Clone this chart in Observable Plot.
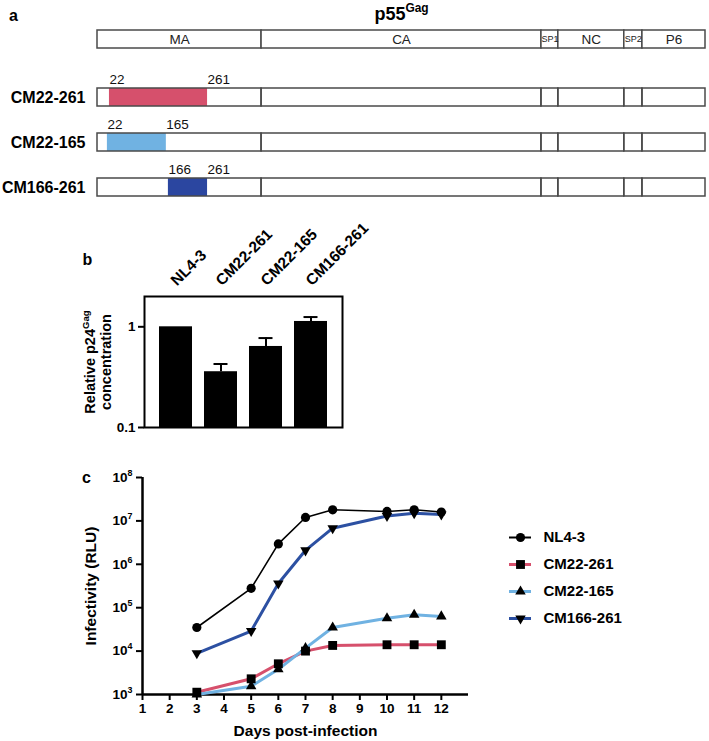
<!DOCTYPE html>
<html><head><meta charset="utf-8">
<script src="https://cdn.jsdelivr.net/npm/d3@7"></script>
<script src="https://cdn.jsdelivr.net/npm/@observablehq/plot@0.6"></script>
<style>
body{margin:0;background:#fff}
#fig{position:relative;width:709px;height:741px;background:#fff;overflow:hidden}
</style></head><body><div id="fig"></div>
<script>
// ---------- data ----------
// panel a: Gag domains (schematic positions)
const gagDomains = ["MA", "CA", "SP1", "NC", "SP2", "P6"];
const gagStart = [0, 398, 1077, 1118, 1278, 1322];
const gagEnd = [398, 1077, 1118, 1278, 1322, 1475];
const constructs = ["CM22-261", "CM22-165", "CM166-261"];
const mutStartLabel = [22, 22, 166];
const mutEndLabel = [261, 165, 261];
const mutFillStart = [29, 24, 172];
const mutFillEnd = [267, 167, 267];
const constructColors = ["#d6506c", "#70b2e2", "#2b46a0"];

// panel b: relative p24 concentration
const p24Names = ["NL4-3", "CM22-261", "CM22-165", "CM166-261"];
const p24Values = [1, 0.358, 0.638, 1.13];
const p24Upper = [null, 0.427, 0.773, 1.25];
const p24Ticks = [0.1, 1];
const p24TickLabels = ["0.1", "1"];

// panel c: infectivity
const days = [3, 5, 6, 7, 8, 10, 11, 12];
const seriesNames = ["NL4-3", "CM22-261", "CM22-165", "CM166-261"];
const rluNL43 = [3.5e4, 2.8e5, 2.95e6, 1.2e7, 1.8e7, 1.65e7, 1.8e7, 1.6e7];
const rluCM22_261 = [1.13e3, 2.3e3, 5.1e3, 1.0e4, 1.35e4, 1.4e4, 1.4e4, 1.4e4];
const rluCM22_165 = [1.0e3, 1.55e3, 3.8e3, 1.17e4, 3.5e4, 5.7e4, 6.9e4, 6.3e4];
const rluCM166_261 = [8.9e3, 2.9e4, 3.6e5, 2.1e6, 6.8e6, 1.3e7, 1.5e7, 1.4e7];
const dayTicks = [1, 2, 3, 4, 5, 6, 7, 8, 9, 10, 11, 12];
const rluTicks = [1e3, 1e4, 1e5, 1e6, 1e7, 1e8];
const seriesColors = ["#000000", "#d6506c", "#70b2e2", "#2c50a2"];

// ---------- helpers ----------
const FONT = "'Liberation Sans', Arial, Helvetica, sans-serif";
const fig = document.getElementById("fig");
function place(el, left, top) {
  el.style.position = "absolute";
  el.style.left = left + "px";
  el.style.top = top + "px";
  el.style.maxWidth = "none";
  fig.appendChild(el);
  return el;
}
function boldTicks(svg) {
  svg.querySelectorAll('g[aria-label$="tick label"]').forEach(g => g.setAttribute("font-weight", "bold"));
}
function supify(root) {
  const ns = "http://www.w3.org/2000/svg";
  root.querySelectorAll("text, tspan").forEach(el => {
    if (el.children.length) return;
    const t = el.textContent;
    const m = t.match(/^(.*)\^\{(.*?)\}(.*)$/);
    if (!m) return;
    const fs = parseFloat(getComputedStyle(el).fontSize) || 13;
    const sfs = Math.round(fs * 0.66 * 10) / 10;
    const shift = Math.round(fs * 0.42 * 10) / 10;
    el.textContent = "";
    const a = document.createElementNS(ns, "tspan"); a.textContent = m[1];
    const b = document.createElementNS(ns, "tspan"); b.textContent = m[2];
    b.setAttribute("font-size", sfs); b.setAttribute("baseline-shift", shift + "px");
    el.append(a, b);
    if (m[3]) { const c = document.createElementNS(ns, "tspan"); c.textContent = m[3]; el.append(c); }
  });
}
const triangleDown = {
  draw(ctx, size) {
    const s3 = Math.sqrt(3);
    const y = -Math.sqrt(size / (s3 * 3));
    ctx.moveTo(0, -2 * y);
    ctx.lineTo(-s3 * y, y);
    ctx.lineTo(s3 * y, y);
    ctx.closePath();
  }
};
const seriesSymbols = ["circle", "square", "triangle", triangleDown];
const seriesR = [4.6, 5, 3.9, 3.9];
const baseStyle = {fontFamily: FONT, color: "black", background: "transparent", overflow: "visible"};
const centered = {textAnchor: "middle", lineAnchor: "middle"};

// ---------- panel a ----------
const gagTable = gagDomains.map((name, i) => ({name, start: gagStart[i], end: gagEnd[i]}));
const xGag = {domain: [gagStart[0], gagEnd[gagEnd.length - 1]], range: [97, 705], axis: null};
const gagMid = (gagStart[0] + gagEnd[gagEnd.length - 1]) / 2;

const plotA1 = Plot.plot({
  width: 709, height: 60, margin: 0,
  style: baseStyle,
  x: xGag,
  y: {type: "band", domain: ["p55"], range: [30, 48], padding: 0, axis: null},
  marks: [
    Plot.barX(gagTable, {x1: "start", x2: "end", y: () => "p55", fill: "white", stroke: "#4a4a4a", strokeWidth: 1.5}),
    Plot.text(gagTable, {x: d => (d.start + d.end) / 2, y: () => "p55", text: "name",
      fontSize: d => d.name.startsWith("SP") ? 9 : 13.5, fill: "#222"}),
    Plot.text([gagMid], {x: d => d, text: () => "p55^{Gag}", frameAnchor: "top", dy: 14, ...centered,
      fontSize: 18, fontWeight: "bold"}),
    Plot.text(["a"], {frameAnchor: "top-left", dx: 13, dy: 15, ...centered, fontSize: 16, fontWeight: "bold"})
  ]
});
place(plotA1, 0, 0);

const rowsA = d3.cross(constructs, gagTable).map(([c, d]) => ({construct: c, ...d}));
const mutTable = constructs.map((c, i) => ({
  construct: c, fs: mutFillStart[i], fe: mutFillEnd[i],
  ls: mutStartLabel[i], le: mutEndLabel[i], color: constructColors[i]
}));
const plotA2 = Plot.plot({
  width: 709, height: 155, margin: 0,
  style: baseStyle,
  x: xGag,
  y: {type: "band", domain: constructs, range: [28, 136], paddingInner: 0.6, paddingOuter: 0, axis: null},
  marks: [
    Plot.barX(rowsA, {x1: "start", x2: "end", y: "construct", fill: "white"}),
    Plot.barX(mutTable, {x1: "fs", x2: "fe", y: "construct", fill: d => d.color}),
    Plot.barX(rowsA, {x1: "start", x2: "end", y: "construct", fill: "none", stroke: "#4a4a4a", strokeWidth: 1.5}),
    Plot.text(mutTable, {x: "fs", y: "construct", text: d => String(d.ls), textAnchor: "start", dy: -18, fontSize: 13.5, fill: "#111"}),
    Plot.text(mutTable, {x: "fe", y: "construct", text: d => String(d.le), textAnchor: "start", dy: -18, fontSize: 13.5, fill: "#111"}),
    Plot.text(constructs, {y: d => d, text: d => d, frameAnchor: "left", dx: 85, textAnchor: "end", fontSize: 16, fontWeight: "bold"})
  ]
});
place(plotA2, 0, 60);

// ---------- panel b ----------
const p24Table = p24Names.map((name, i) => ({name, value: p24Values[i], upper: p24Upper[i]}));
const p24Domain = [0.1, 2];
const plotB = Plot.plot({
  width: 360, height: 220, marginLeft: 144, marginRight: 18, marginTop: 76, marginBottom: 13,
  style: baseStyle,
  x: {type: "band", domain: p24Names, paddingInner: 0.27, paddingOuter: 0.32, axis: null},
  y: {type: "log", domain: p24Domain, axis: null},
  marks: [
    Plot.barY(p24Table, {x: "name", y1: () => p24Domain[0], y2: "value", fill: "black"}),
    Plot.ruleX(p24Table.filter(d => d.upper), {x: "name", y1: "value", y2: "upper", strokeWidth: 2}),
    Plot.tickY(p24Table.filter(d => d.upper), {x: "name", y: "upper", strokeWidth: 2, insetLeft: 9.5, insetRight: 9.5}),
    Plot.frame({stroke: "black", strokeWidth: 2}),
    Plot.axisY({ticks: p24Ticks, tickFormat: d => p24TickLabels[p24Ticks.indexOf(d)], tickSize: 6, tickPadding: 3,
      fontSize: 13.5, strokeWidth: 2, label: null}),
    Plot.text(p24Table, {x: "name", text: "name", frameAnchor: "top", rotate: -45, textAnchor: "start",
      lineAnchor: "bottom", dy: -10, dx: 1, fontSize: 15.5, fontWeight: "bold"}),
    Plot.text(["Relative p24^{Gag}\nconcentration"], {frameAnchor: "left", dx: -47, rotate: -90, ...centered,
      fontSize: 14.5, fontWeight: "bold", lineHeight: 1.15}),
    Plot.text(["b"], {frameAnchor: "top-left", dx: -57, dy: -37, ...centered, fontSize: 16, fontWeight: "bold"})
  ]
});
place(plotB, 0, 220);

// ---------- panel c ----------
const rluSeries = [rluNL43, rluCM22_261, rluCM22_165, rluCM166_261];
const rluTable = seriesNames.flatMap((s, i) => days.map((d, j) => ({series: s, day: d, value: rluSeries[i][j]})));
const colorScale = {domain: seriesNames, range: seriesColors};
const plotC = Plot.plot({
  width: 709, height: 301, marginLeft: 142, marginRight: 241, marginTop: 37, marginBottom: 47,
  style: baseStyle,
  x: {domain: [1, 13], axis: null},
  y: {type: "log", domain: [1e3, 1e8], axis: null},
  color: colorScale,
  marks: [
    Plot.ruleX([1], {strokeWidth: 2.5}),
    Plot.ruleY([1e3], {strokeWidth: 2.5}),
    Plot.axisX({ticks: dayTicks, tickSize: 6, tickPadding: 3, fontSize: 13.5, strokeWidth: 2, label: null}),
    Plot.axisY({ticks: rluTicks, tickFormat: d => `10^{${Math.round(Math.log10(d))}}`, tickSize: 6, tickPadding: 4,
      fontSize: 13.5, strokeWidth: 2, label: null}),
    Plot.line(rluTable.filter(d => d.series !== "NL4-3"), {x: "day", y: "value", z: "series", stroke: "series",
      strokeWidth: 3, strokeLinejoin: "round"}),
    Plot.line(rluTable.filter(d => d.series === "NL4-3"), {x: "day", y: "value", stroke: "series", strokeWidth: 1.6}),
    ...seriesNames.map((s, i) => Plot.dot(rluTable.filter(d => d.series === s),
      {x: "day", y: "value", symbol: seriesSymbols[i], r: seriesR[i], fill: "black", stroke: "none"})),
    Plot.text(["Infectivity (RLU)"], {frameAnchor: "left", dx: -51, rotate: -90, ...centered, fontSize: 15.5, fontWeight: "bold"}),
    Plot.text(["Days post-infection"], {frameAnchor: "bottom", dy: 37, ...centered, fontSize: 15.5, fontWeight: "bold"}),
    Plot.text(["c"], {frameAnchor: "top-left", dx: -56, dy: 0, ...centered, fontSize: 16, fontWeight: "bold"})
  ]
});
place(plotC, 0, 440);

// ---------- legend ----------
const plotL = Plot.plot({
  width: 150, height: 110, margin: 0,
  style: baseStyle,
  x: {domain: [0, 1], range: [9, 31], axis: null},
  y: {type: "point", domain: seriesNames, range: [16, 98], padding: 0, axis: null},
  color: colorScale,
  marks: [
    Plot.ruleY(seriesNames.slice(0, 1), {y: d => d, x1: 0, x2: 1, stroke: d => d, strokeWidth: 2}),
    Plot.ruleY(seriesNames.slice(1), {y: d => d, x1: 0, x2: 1, stroke: d => d, strokeWidth: 3}),
    ...seriesNames.map((s, i) => Plot.dot([s], {x: 0.5, y: d => d, symbol: seriesSymbols[i], r: seriesR[i],
      fill: "black", stroke: "none"})),
    Plot.text(seriesNames, {x: 1, y: d => d, text: d => d, dx: 12, textAnchor: "start", fontSize: 15, fontWeight: "bold"})
  ]
});
place(plotL, 500, 520);

[plotA1, plotA2, plotB, plotC, plotL].forEach(svg => { boldTicks(svg); supify(svg); });
</script></body></html>
